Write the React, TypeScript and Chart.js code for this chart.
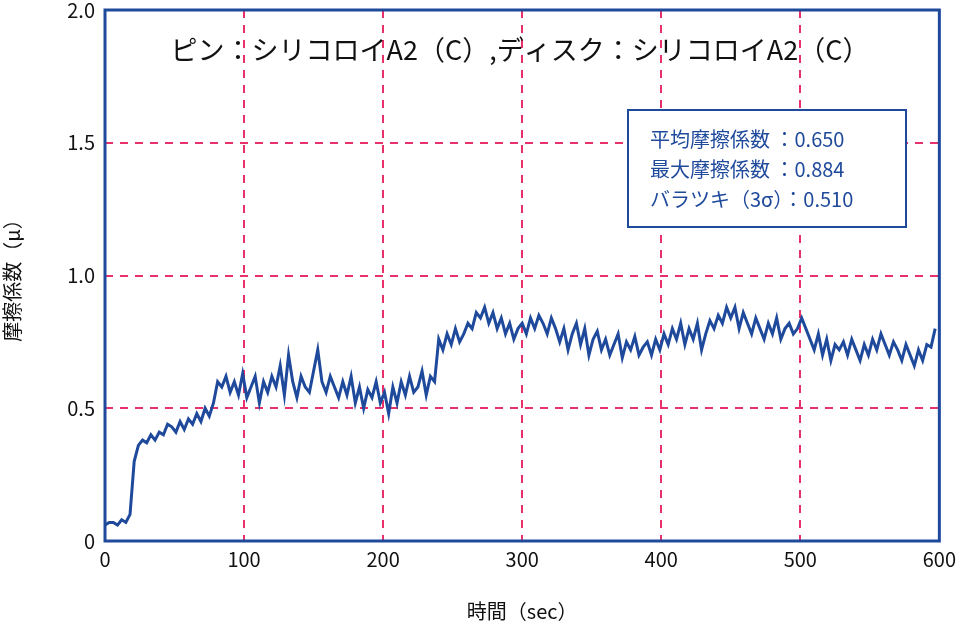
import { useEffect, useRef } from "react";
import { Chart, registerables } from "chart.js";
Chart.register(...registerables);

const STEP_SEC = 3;
const friction = [
  0.06,0.07,0.07,0.06,0.08,0.07,0.10,0.30,0.36,0.38,
  0.37,0.40,0.38,0.41,0.40,0.44,0.43,0.41,0.45,0.42,
  0.46,0.44,0.48,0.45,0.50,0.47,0.52,0.60,0.58,0.62,
  0.56,0.60,0.55,0.63,0.54,0.58,0.62,0.52,0.60,0.56,
  0.62,0.58,0.66,0.55,0.70,0.60,0.54,0.62,0.58,0.56,
  0.64,0.72,0.60,0.56,0.62,0.58,0.54,0.60,0.55,0.62,
  0.52,0.58,0.50,0.57,0.54,0.60,0.52,0.56,0.48,0.58,
  0.52,0.60,0.55,0.62,0.56,0.58,0.64,0.55,0.62,0.60,
  0.76,0.72,0.78,0.74,0.80,0.75,0.78,0.82,0.80,0.86,
  0.84,0.88,0.82,0.86,0.80,0.84,0.78,0.82,0.76,0.80,
  0.82,0.78,0.84,0.80,0.85,0.82,0.78,0.84,0.80,0.75,
  0.80,0.72,0.78,0.82,0.74,0.80,0.70,0.76,0.79,0.72,
  0.76,0.70,0.74,0.78,0.69,0.75,0.72,0.77,0.70,0.73,
  0.75,0.70,0.76,0.72,0.78,0.74,0.80,0.76,0.82,0.74,
  0.80,0.76,0.82,0.72,0.78,0.83,0.80,0.85,0.82,0.88,
  0.84,0.88,0.80,0.86,0.82,0.78,0.84,0.80,0.76,0.82,
  0.78,0.84,0.76,0.80,0.82,0.78,0.80,0.84,0.80,0.76,
  0.72,0.78,0.70,0.76,0.68,0.74,0.72,0.75,0.70,0.76,
  0.72,0.68,0.74,0.70,0.76,0.72,0.78,0.74,0.70,0.75,
  0.72,0.68,0.74,0.70,0.66,0.72,0.68,0.74,0.73,0.80,
];
const yTickLabels: Record<string, string> = { "0": "0", "0.5": "0.5", "1": "1.0", "1.5": "1.5", "2": "2.0" };
const title = "ピン：シリコロイA2（C）,ディスク：シリコロイA2（C）";
const statLines = ["平均摩擦係数 ：0.650", "最大摩擦係数 ：0.884", "バラツキ（3σ）：0.510"];

const BLUE = "#1f4a9c";
const FONT = "'Noto Sans CJK JP', 'Noto Sans', sans-serif";

export default function App() {
  const ref = useRef<HTMLCanvasElement>(null);
  useEffect(() => {
    document.body.style.margin = "0";
    const points = friction.map((v, i) => ({ x: i * STEP_SEC, y: v }));
    const overlay = {
      id: "overlay",
      afterDraw(chart: any) {
        const { ctx, chartArea: a } = chart;
        ctx.save();
        ctx.strokeStyle = BLUE;
        ctx.lineWidth = 3;
        ctx.strokeRect(a.left, a.top, a.right - a.left, a.bottom - a.top);
        ctx.fillStyle = "#111";
        ctx.font = `27px ${FONT}`;
        ctx.textAlign = "center";
        ctx.textBaseline = "middle";
        ctx.fillText(title, 520, 50);
        ctx.fillStyle = "#fff";
        ctx.fillRect(628, 110, 278, 117);
        ctx.lineWidth = 2;
        ctx.strokeRect(628, 110, 278, 117);
        ctx.fillStyle = BLUE;
        ctx.font = `20px ${FONT}`;
        ctx.textAlign = "left";
        statLines.forEach((t, i) => ctx.fillText(t, 650, 139 + i * 30));
        ctx.restore();
      },
    };
    const chart = new Chart(ref.current!, {
      type: "line",
      data: { datasets: [{ data: points, borderColor: BLUE, borderWidth: 3, pointRadius: 0, tension: 0 }] },
      options: {
        animation: false,
        responsive: false,
        layout: { padding: { top: 10, right: 22, left: 0, bottom: 0 } },
        plugins: { legend: { display: false }, tooltip: { enabled: false } },
        scales: {
          x: {
            type: "linear", min: 0, max: 600,
            ticks: { stepSize: 100, color: "#111", font: { size: 20, family: FONT }, padding: 6 },
            grid: { color: "#e8306a", lineWidth: 2, drawTicks: false },
            border: { display: false, dash: [8, 7] } as any,
            title: { display: true, text: "時間（sec）", color: "#111", font: { size: 20, family: FONT }, padding: { top: 0 } },
            afterFit: (s: any) => { s.height = 86; },
          },
          y: {
            min: 0, max: 2,
            ticks: { stepSize: 0.5, color: "#111", font: { size: 20, family: FONT }, padding: 10,
              callback: (v: any) => yTickLabels[String(v)] ?? "" },
            grid: { color: "#e8306a", lineWidth: 2, drawTicks: false },
            border: { display: false, dash: [8, 7] } as any,
            title: { display: true, text: "摩擦係数（μ）", color: "#111", font: { size: 20, family: FONT }, padding: 0 },
            afterFit: (s: any) => { s.width = 105; s.paddingTop = 0; s.paddingBottom = 0; },
          },
        },
      },
      plugins: [overlay],
    });
    return () => chart.destroy();
  }, []);
  return <canvas ref={ref} width={962} height={627} style={{ display: "block" }} />;
}
